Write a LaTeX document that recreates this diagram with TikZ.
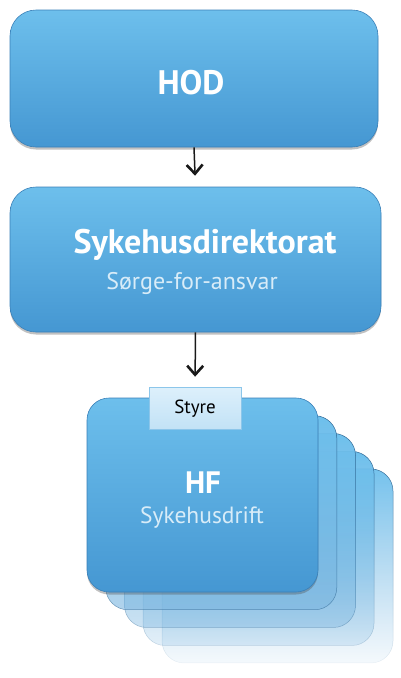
\documentclass[tikz,border=0pt]{standalone}
\usepackage{fontspec}
\setmainfont{PT Sans}
\usetikzlibrary{arrows.meta,shadows,fadings}
\definecolor{btop}{HTML}{6DBFEC}
\definecolor{bbot}{HTML}{4597D2}
\definecolor{bedge}{HTML}{3A80B8}
\definecolor{stop}{HTML}{DDF0FB}
\definecolor{sbot}{HTML}{C2E2F6}
\definecolor{sedge}{HTML}{8CC6EA}
\definecolor{subtxt}{HTML}{D8ECF8}
\tikzfading[name=fadeA, top color=transparent!0, bottom color=transparent!40]
\tikzfading[name=fadeB, top color=transparent!0, bottom color=transparent!60]
\tikzfading[name=fadeC, top color=transparent!0, bottom color=transparent!78]
\tikzfading[name=fadeD, top color=transparent!5, bottom color=transparent!92]
\begin{document}
\begin{tikzpicture}[x=1pt,y=-1pt,
  bluebox/.style={draw=bedge, line width=0.6pt, rounded corners=26pt,
    top color=btop, bottom color=bbot, inner sep=0pt,
    drop shadow={shadow xshift=0pt, shadow yshift=-2.5pt, opacity=0.35, fill=black!70}},
  layerbox/.style={draw=bedge!80!black, line width=0.5pt, rounded corners=22pt,
    top color=btop, bottom color=bbot!70!white, inner sep=0pt,
    minimum width=231pt, minimum height=194pt},
  tabbox/.style={draw=sedge, line width=0.6pt, top color=stop, bottom color=sbot,
    minimum width=92pt, minimum height=42pt, inner sep=0pt},
  title/.style={text=white, font=\bfseries\fontsize{34}{36}\selectfont},
  subtitle/.style={text=subtxt, font=\fontsize{24}{27}\selectfont},
  arr/.style={draw=black!90, line width=1.5pt, -{Straight Barb[length=9pt,width=16pt,line width=2.6pt]}}
]
\useasboundingbox (0,0) rectangle (400,678);
% HOD
\node[bluebox, minimum width=368pt, minimum height=137pt] (hod) at (194,78.5) {};
\node[title] (hodt) at (191,83) {HOD};
% Sykehusdirektorat
\node[bluebox, minimum width=371pt, minimum height=145pt] (dir) at (195.5,259.5) {};
\node[title] (dirt) at (205,245) {Sykehusdirektorat};
\node[subtitle] (dirs) at (192,283) {Sørge-for-ansvar};
% stacked layers (back to front)
\node[layerbox, path fading=fadeD, fit fading=true] (l4) at (202.5+75,495+71) {};
\node[layerbox, path fading=fadeC, fit fading=true] (l3) at (202.5+56,495+53.5) {};
\node[layerbox, path fading=fadeB, fit fading=true] (l2) at (202.5+37.5,495+35.5) {};
\node[layerbox, path fading=fadeA, fit fading=true] (l1) at (202.5+18.75,495+17.75) {};
% front HF
\node[bluebox, rounded corners=22pt, minimum width=231pt, minimum height=194pt] (hf) at (202.5,495) {};
\node[title, font=\bfseries\fontsize{31}{34}\selectfont] (hft) at (203,483) {HF};
\node[subtitle, font=\fontsize{23.5}{26}\selectfont] (hfs) at (202,518) {Sykehusdrift};
% Styre tab
\node[tabbox] (styre) at (195,408) {};
\node[font=\fontsize{19}{22}\selectfont, text=black] (styret) at (195,409) {Styre};
% arrows
\draw[arr, shorten >=11pt] (hod.south) -- (dir.north);
\draw[arr, shorten >=10pt] (dir.south) -- (styre.north);
\end{tikzpicture}
\end{document}
